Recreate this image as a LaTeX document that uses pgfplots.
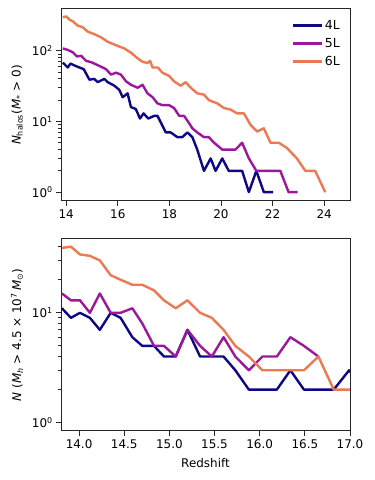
\documentclass[border=0pt]{standalone}
\usepackage{fontspec}
\setmainfont{DejaVu Sans}
\usepackage{pgfplots}
\pgfplotsset{compat=1.18}

\definecolor{c4}{HTML}{0D0887}
\definecolor{c5}{HTML}{9C179E}
\definecolor{c6}{HTML}{ED7953}

\newcommand{\lblfont}{\fontsize{12}{14}\selectfont}

\pgfplotsset{
  /pgfplots/mypanel/.style={
    scale only axis,
    width=289bp, height=192bp,
    tick align=outside,
    tick pos=left,
    axis line style={black!85, line width=1bp},
    every tick/.style={black!85, line width=0.9bp},
    major tick length=4.8bp,
    minor tick length=2.8bp,
    tick label style={font=\lblfont},
    /pgf/number format/assume math mode=true,
    ytick={1,10,100},
    yticklabels={10\textsuperscript{0},10\textsuperscript{1},10\textsuperscript{2}},
    every axis plot/.append style={line width=2.4bp, mark=none, line join=round},
  },
}

\begin{document}
\begin{tikzpicture}[x=1bp,y=1bp]
\useasboundingbox (0,0) rectangle (374,480);

% top panel
\begin{axis}[ymode=log, mypanel,
  at={(61bp,279bp)}, anchor=south west,
  xmin=13.8, xmax=25, ymin=0.75, ymax=390,
  xtick={14,16,...,24},
  ylabel={\textit{N}\textsubscript{halos}(\textit{M}\textsubscript{*} > 0)},
  ylabel style={at={(axis description cs:-0.152,0.5)}, anchor=center, font=\lblfont},
  legend style={at={(1,1)}, anchor=north east, draw=none, fill=none,
    font=\fontsize{12.5}{14}\selectfont, row sep=3.5bp, inner xsep=8bp, inner ysep=9bp},
  legend cell align=left,
  legend image code/.code={\draw[#1, line width=2.4bp] (0bp,0bp) -- (29bp,0bp);},
]
\addplot[c4] coordinates {
(13.87,68)(14.06,58)(14.17,66)(14.32,62)(14.51,58)(14.68,55)(14.90,39)(15.09,40)
(15.22,36)(15.48,40)(15.61,36)(15.87,32)(16.06,28)(16.19,22)(16.38,25)(16.51,16)
(16.70,15)(16.86,11)(17.00,13)(17.18,11)(17.41,12)(17.54,12)(17.86,7)(18.05,7)
(18.31,6)(18.50,6)(18.70,7)(18.89,6)(19.08,4)(19.34,2)(19.60,3)(19.79,2)
(20.05,3)(20.30,2)(20.82,2)(21.08,1)(21.37,2)(21.66,1)(22.02,1)};
\addlegendentry{4L}
\addplot[c5] coordinates {
(13.87,108)(14.06,103)(14.26,95)(14.42,83)(14.58,85)(14.77,72)(14.97,69)(15.29,61)
(15.54,55)(15.74,46)(15.93,49)(16.12,46)(16.32,37)(16.51,33)(16.77,30)(16.96,33)
(17.15,25)(17.35,22)(17.54,18)(17.73,17)(17.99,17)(18.18,15.5)(18.38,12)(18.57,12)
(18.76,9.5)(18.89,8)(19.08,7)(19.34,6)(19.53,6)(19.73,5)(20.05,4)(20.56,4)
(20.82,5)(21.08,3)(21.37,2)(22.30,2)(22.62,1)(22.97,1)};
\addlegendentry{5L}
\addplot[c6] coordinates {
(13.87,298)(14.00,306)(14.13,276)(14.26,260)(14.45,227)(14.64,215)(14.84,186)(15.09,172)
(15.35,155)(15.61,134)(16.00,117)(16.25,108)(16.51,94)(16.77,78)(16.96,70)(17.15,67)
(17.25,72)(17.35,58)(17.55,58)(17.73,49)(17.99,44)(18.18,37)(18.44,32)(18.63,36)
(18.83,30)(19.08,25)(19.34,24)(19.53,20)(19.86,18)(20.11,15.5)(20.37,14.7)(20.63,13)
(20.89,13)(21.14,9)(21.40,7.2)(21.66,8)(21.92,5)(22.24,5)(22.56,4.2)(22.94,3)
(23.27,2)(23.65,2)(24.04,1)};
\addlegendentry{6L}
\end{axis}

% bottom panel
\begin{axis}[ymode=log, mypanel,
  at={(61bp,49bp)}, anchor=south west,
  xmin=13.8, xmax=17, ymin=0.84, ymax=47,
  xtick={14,14.5,...,17},
  xticklabel={\pgfmathprintnumber[fixed,fixed zerofill,precision=1]{\tick}},
  xlabel={Redshift},
  ylabel={\textit{N} (\textit{M}\textsubscript{\textit{h}} > 4.5 × 10\textsuperscript{7}\,\textit{M}\textsubscript{⊙})},
  ylabel style={at={(axis description cs:-0.152,0.5)}, anchor=center, font=\lblfont},
  xlabel style={at={(axis description cs:0.5,-0.167)}, anchor=center, font=\lblfont},
]
\addplot[c4] coordinates {
(13.81,11)(13.91,9)(14.01,10)(14.12,9)(14.23,7)(14.35,10)(14.46,9)(14.59,6)
(14.70,5)(14.83,5)(14.94,4)(15.07,4)(15.20,7)(15.34,4)(15.47,4)(15.60,4)
(15.73,3)(15.88,2)(16.03,2)(16.19,2)(16.34,3)(16.49,2)(16.65,2)(16.82,2)
(16.99,3)(17.15,2)};
\addplot[c5] coordinates {
(13.81,15)(13.91,13)(14.01,13)(14.12,10)(14.23,15)(14.35,10)(14.46,10)(14.59,11)
(14.70,8)(14.83,5)(14.94,5)(15.07,4)(15.20,7)(15.34,5)(15.47,4)(15.60,6)
(15.73,4)(15.88,3)(16.03,4)(16.19,4)(16.34,6)(16.49,5)(16.65,4)};
\addplot[c6] coordinates {
(13.81,39)(13.91,40)(14.01,34)(14.12,33)(14.23,30)(14.35,22)(14.46,20)(14.59,18)
(14.70,18)(14.83,16)(14.94,13)(15.07,11)(15.20,13)(15.34,10)(15.47,9)(15.60,7)
(15.73,5)(15.88,4)(16.03,3)(16.19,3)(16.34,3)(16.49,3)(16.65,4)(16.82,2)
(16.99,2)(17.15,2)};
\end{axis}
\end{tikzpicture}
\end{document}
